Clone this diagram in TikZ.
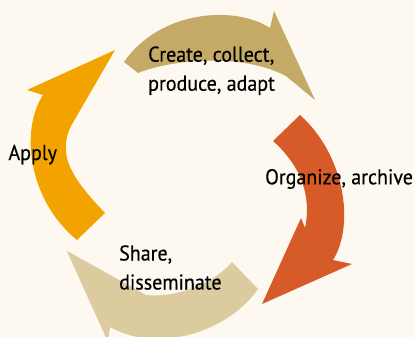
\documentclass[tikz,border=0pt]{standalone}
\usepackage{fontspec}
\setmainfont{PT Sans}[FakeStretch=0.935,FakeBold=0.4]
\definecolor{bgc}{HTML}{FDF9F1}
\definecolor{toptan}{HTML}{C4A967}
\definecolor{orangec}{HTML}{F2A300}
\definecolor{redc}{HTML}{D75B28}
\definecolor{lighttan}{HTML}{DCCB9F}
\tikzset{
  arrowshape/.style={draw=none},
  lbl/.style={inner sep=0pt, anchor=base west, text=black,
    font=\fontsize{21.4}{29}\selectfont}
}
\begin{document}
\begin{tikzpicture}[x=1pt,y=-1pt]
\useasboundingbox (0,0) rectangle (415,337);
\fill[bgc] (0,0) rectangle (415,337);
\begin{scope}
\clip (0,0) rectangle (415,337);
% top arrow
\fill[toptan,arrowshape] (124,62) -- (138,73)
  .. controls (170,60) and (240,52) .. (286,76)
  -- (315,100) -- (274,11) -- (270,28)
  .. controls (235,5) and (160,10) .. (124,62) -- cycle;
% red arrow
\fill[redc,arrowshape] (300,115)
  .. controls (345,155) and (355,225) .. (333,260)
  -- (352,264) -- (262,304) -- (301,218) -- (305,228)
  .. controls (312,195) and (300,165) .. (273,141) -- cycle;
% light tan arrow
\fill[lighttan,arrowshape] (232,262) -- (258,289)
  .. controls (230,330) and (160,355) .. (110,327)
  -- (108,342) -- (66.7,250.7) -- (146,295)
  .. controls (180,298) and (215,282) .. (232,262) -- cycle;
% orange arrow
\fill[orangec,arrowshape] (77,240) -- (105,213)
  .. controls (85,192) and (68,172) .. (66,152)
  .. controls (65,140) and (68,132) .. (71,126)
  -- (115,50) -- (27,90) -- (43,95)
  .. controls (20,130) and (28,200) .. (77,240) -- cycle;
\end{scope}
\node[lbl] (create) at (148,61.7) {\begin{tabular}[t]{@{}l@{}}Create, collect,\\produce, adapt\end{tabular}};
\node[lbl] (apply) at (8.3,160) {Apply};
\node[lbl] (organize) at (265,184.3) {Organize, archive};
\node[lbl] (share) at (119,260.5) {\begin{tabular}[t]{@{}l@{}}Share,\\disseminate\end{tabular}};
\end{tikzpicture}
\end{document}
